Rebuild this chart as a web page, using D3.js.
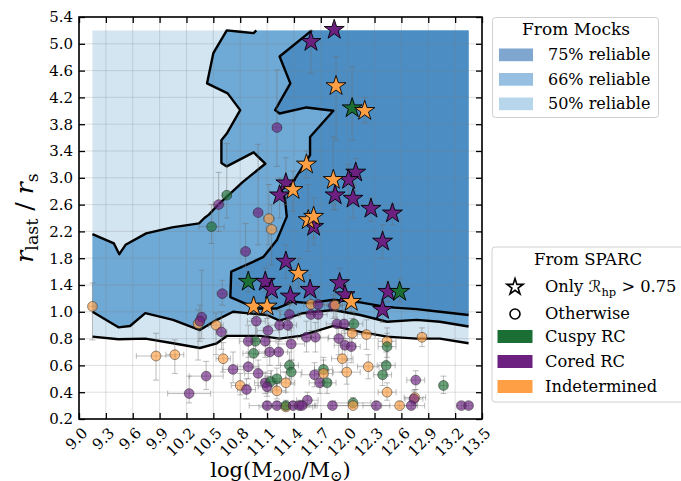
<!DOCTYPE html>
<html>
<head>
<meta charset="utf-8">
<script src="https://cdn.jsdelivr.net/npm/d3@7"></script>
<style>
  body { margin: 0; background: #fff; }
  svg { display: block; font-family: "DejaVu Serif", serif; }
</style>
</head>
<body>
<svg id="chart" width="681" height="481"></svg>
<script>
// ---- axis ticks ----
const xTicks = [9.0, 9.3, 9.6, 9.9, 10.2, 10.5, 10.8, 11.1, 11.4, 11.7, 12.0, 12.3, 12.6, 12.9, 13.2, 13.5];
const yTicks = [0.2, 0.4, 0.6, 0.8, 1.0, 1.4, 1.8, 2.2, 2.6, 3.0, 3.4, 3.8, 4.2, 4.6, 5.0, 5.4];

// ---- mock reliability map: extent of the mass grid and ratio ceiling ----
const gridMass = [9.15, 13.35];
const gridTop = 5.2;

// lower edge of the 50% reliable region  [log M200, r_last/r_s]
const edge50 = [[9.15,0.815],[9.44,0.795],[9.74,0.80],[10.05,0.765],[10.35,0.73],[10.54,0.765],[10.65,0.82],
  [10.87,0.82],[11.02,0.82],[11.24,0.80],[11.47,0.82],[11.84,0.895],[12.14,0.85],[12.44,0.815],[12.77,0.80],
  [13.03,0.80],[13.35,0.765]];

// lower edge of the 66% reliable region
const edge66Low = [[9.15,1.0],[9.44,0.884],[9.57,0.894],[9.74,0.99],[10.05,0.94],[10.35,0.864],[10.54,0.94],
  [10.72,1.0],[10.87,0.99],[11.1,0.976],[11.24,0.934],[11.5,0.99],[11.84,1.027],[12.14,0.976],[12.44,0.926],
  [12.77,0.94],[13.03,0.926],[13.35,0.89]];

// upper-left edge of the 66% reliable region (left side to the top)
const edge66High = [[9.15,2.16],[9.39,2.02],[9.45,1.86],[9.52,2.0],[9.75,2.17],[10.04,2.26],[10.34,2.32],
  [10.40,2.40],[10.45,2.45],[10.57,2.62],[10.83,2.94],[11.08,3.21],[10.95,3.38],[10.65,3.17],[10.59,3.22],
  [10.59,3.56],[10.65,3.66],[10.80,4.01],[10.66,4.26],[10.43,4.41],[10.50,4.86],[10.65,5.2],[10.80,5.18],
  [10.95,5.16],[10.98,5.2]];

// edge of the 75% reliable region (top down to the right side)
const edge75 = [[11.60,5.2],[11.24,4.81],[11.36,4.41],[11.19,4.01],[11.24,3.96],[11.54,4.05],[11.84,4.0],
  [11.58,3.61],[11.58,3.34],[11.39,2.94],[11.26,2.82],[11.30,2.69],[11.32,2.42],[11.21,2.07],[11.06,1.82],
  [10.95,1.75],[10.70,1.60],[10.69,1.22],[10.98,1.05],[11.21,1.05],[11.39,1.15],[11.58,1.13],[11.84,1.18],
  [12.14,1.14],[12.44,1.07],[12.77,1.04],[13.03,1.0],[13.35,0.976]];

// ---- SPARC galaxies with R_hp > 0.75: [class, log M200, r, r low, r high, mass err] ----
const sparcStars = [
  ["cored",11.85,5.21,5.21,5.21,0],["cored",11.59,5.03,4.56,5.2,0],["indet",11.87,4.37,3.56,4.81,0],
  ["cuspy",12.05,4.04,3.56,4.66,0],["indet",12.19,4.00,3.82,4.2,0],["indet",11.54,3.20,3.0,3.4,0],
  ["cored",12.09,3.08,2.8,3.29,0],["cored",12.01,2.97,2.7,3.2,0],["indet",11.84,2.97,2.52,3.61,0],
  ["cored",11.86,2.74,2.52,3.0,0],["cored",12.06,2.69,2.4,2.9,0],["cored",12.26,2.54,2.35,2.7,0],
  ["cored",12.50,2.47,2.3,2.6,0],["cored",11.31,2.92,2.6,3.3,0],["cored",11.24,2.74,2.4,3.0,0],
  ["indet",11.39,2.82,2.5,3.1,0],["cored",11.62,2.27,2.0,2.5,0],["indet",11.56,2.37,1.9,2.9,0],
  ["indet",11.62,2.42,2.1,2.7,0],["cored",12.39,2.05,1.8,2.3,0],["cored",11.31,1.75,1.5,2.0,0],
  ["indet",11.45,1.57,1.35,1.8,0],["cuspy",10.89,1.45,1.3,1.6,0],["cored",11.08,1.45,1.3,1.65,0],
  ["cored",11.15,1.33,1.2,1.5,0],["cored",11.36,1.23,1.1,1.4,0],["cored",11.58,1.33,1.15,1.55,0],
  ["indet",10.95,1.08,0.95,1.2,0],["indet",11.10,1.08,0.95,1.2,0],["cored",11.91,1.43,1.25,1.65,0],
  ["cored",11.97,1.25,1.1,1.4,0],["indet",12.04,1.15,1.0,1.3,0],["cored",12.45,1.30,1.15,1.45,0],
  ["cuspy",12.58,1.30,1.15,1.5,0],["cored",12.39,1.03,0.92,1.15,0]
];

// ---- remaining SPARC galaxies: [class, log M200, r, r low, r high, mass err] ----
const sparcCircles = [
  ["indet",9.15,1.08,0.79,1.43,0.04],["indet",9.86,0.67,0.49,0.84,0.22],["indet",10.07,0.68,0.54,0.79,0.10],
  ["cored",10.23,0.39,0.32,0.52,0.24],["cored",10.42,0.52,0.42,0.63,0.19],["indet",10.33,0.91,0.64,1.03,0.05],
  ["cored",10.37,0.96,0.80,1.62,0.05],["cored",10.35,0.93,0.78,1.1,0.05],["indet",10.53,0.90,0.68,0.99,0.08],
  ["cored",10.59,0.85,0.72,1.0,0.06],["cored",10.60,1.27,1.10,1.47,0.06],["indet",10.61,0.65,0.55,0.77,0.08],
  ["cored",10.72,0.57,0.47,0.70,0.12],["cored",10.86,1.90,1.67,2.32,0.05],["cuspy",10.48,2.27,2.02,2.6,0.14],
  ["cored",10.56,2.60,2.2,3.08,0.06],["cuspy",10.65,2.74,2.4,3.51,0.05],["cored",11.00,2.48,2.0,3.5,0.05],
  ["indet",11.12,2.39,2.0,2.9,0.06],["indet",11.15,2.23,1.7,2.6,0.06],["cored",11.21,3.75,3.17,4.61,0.05],
  ["indet",11.59,1.11,0.98,1.3,0.08],["cored",11.67,1.11,0.95,1.3,0.1],["cored",11.84,1.09,0.95,1.25,0.1],
  ["indet",11.86,1.10,0.96,1.3,0.08],["cored",11.35,0.98,0.86,1.12,0.1],["cored",11.59,0.98,0.86,1.12,0.12],
  ["cored",11.67,0.98,0.85,1.1,0.1],["cored",10.98,0.93,0.8,1.05,0.1],["cored",11.24,0.90,0.78,1.02,0.12],
  ["cored",11.33,0.90,0.78,1.03,0.1],["cored",11.88,0.91,0.8,1.02,0.12],["cored",11.96,0.91,0.8,1.03,0.1],
  ["cuspy",12.07,0.91,0.8,1.0,0.1],["cored",11.11,0.86,0.75,0.98,0.12],["indet",12.05,0.84,0.72,0.95,0.12],
  ["indet",12.21,0.83,0.72,0.94,0.1],["cored",11.64,0.81,0.7,0.92,0.15],["cored",11.54,0.81,0.7,0.93,0.1],
  ["cored",11.90,0.80,0.68,0.9,0.12],["cuspy",10.97,0.78,0.68,0.9,0.1],["cored",10.89,0.78,0.66,0.9,0.1],
  ["cored",11.08,0.78,0.66,0.88,0.12],["cored",11.37,0.76,0.64,0.88,0.15],["cored",11.97,0.75,0.64,0.86,0.12],
  ["cored",12.04,0.74,0.62,0.86,0.1],["indet",12.44,0.78,0.66,0.88,0.1],["cuspy",12.44,0.74,0.62,0.84,0.1],
  ["indet",12.83,0.81,0.74,0.88,0.05],["cored",11.13,0.70,0.6,0.8,0.12],["cored",11.23,0.70,0.6,0.8,0.1],
  ["cuspy",10.95,0.69,0.58,0.8,0.12],["indet",11.94,0.65,0.55,0.76,0.12],["cored",10.89,0.59,0.5,0.7,0.12],
  ["cored",11.00,0.54,0.45,0.64,0.15],["cuspy",11.35,0.60,0.5,0.7,0.1],["cuspy",11.37,0.55,0.46,0.64,0.12],
  ["cuspy",11.73,0.57,0.48,0.66,0.1],["indet",11.73,0.54,0.45,0.64,0.1],["cored",11.63,0.53,0.44,0.62,0.15],
  ["cored",11.69,0.47,0.39,0.56,0.12],["cuspy",11.77,0.47,0.39,0.56,0.1],["indet",10.80,0.45,0.38,0.54,0.1],
  ["cored",10.87,0.42,0.35,0.5,0.1],["cored",11.08,0.47,0.39,0.55,0.12],["cuspy",11.14,0.48,0.4,0.56,0.1],
  ["cuspy",11.21,0.50,0.42,0.58,0.1],["indet",11.31,0.47,0.4,0.55,0.1],["cored",11.10,0.44,0.37,0.52,0.1],
  ["indet",11.21,0.41,0.35,0.48,0.1],["cored",11.55,0.34,0.29,0.4,0.12],["indet",12.23,0.59,0.5,0.68,0.12],
  ["cuspy",12.43,0.60,0.52,0.7,0.1],["indet",11.99,0.55,0.46,0.64,0.15],["cuspy",12.39,0.53,0.45,0.62,0.1],
  ["cored",12.76,0.49,0.42,0.56,0.1],["cuspy",13.07,0.45,0.39,0.52,0.04],["indet",12.44,0.40,0.34,0.47,0.1],
  ["indet",12.75,0.36,0.31,0.42,0.12],["cored",12.74,0.35,0.3,0.41,0.1],
  ["cored",11.10,0.30,0.28,0.33,0.2],["cored",11.21,0.30,0.28,0.33,0.15],["indet",11.31,0.29,0.27,0.32,0.3],
  ["cuspy",11.31,0.30,0.28,0.34,0.2],["cored",11.39,0.30,0.28,0.33,0.15],["cored",11.46,0.30,0.28,0.33,0.2],
  ["cored",11.49,0.30,0.28,0.33,0.15],["cored",11.83,0.30,0.28,0.33,0.2],["cuspy",12.06,0.32,0.29,0.36,0.2],
  ["indet",12.06,0.30,0.28,0.33,0.25],["cored",12.32,0.30,0.28,0.33,0.15],["indet",12.58,0.30,0.28,0.33,0.2],
  ["cored",12.71,0.30,0.28,0.33,0.15],["cored",13.27,0.30,0.28,0.32,0.05],["cored",13.35,0.30,0.28,0.32,0.04]
];

const classColor = { cuspy: "#1b6e34", cored: "#6c2180", indet: "#ff9f45" };
const mockFill = { r50: "#d3e5f1", r66: "#6fa9d5", r75: "#4c8dc3" };
const mockLegend = [["75% reliable", "#7fa6cf"], ["66% reliable", "#96bfe1"], ["50% reliable", "#b8d6eb"]];
const classLegend = [["Cuspy RC", classColor.cuspy], ["Cored RC", classColor.cored], ["Indetermined", classColor.indet]];

// ---- layout ----
const pL = 79, pR = 482, pT = 17, pB = 419;
const svg = d3.select("#chart");
const x = d3.scaleLinear().domain([9.0, 13.5]).range([pL, pR]);
// equal spacing between tick labels: finer steps below 1.0
const yBreak = pB - (pB - pT) * 4 / 15;
const y = d3.scaleLinear().domain([0.2, 1.0, 5.4]).range([pB, yBreak, pT]);

const line = d3.line().x(d => x(d[0])).y(d => y(d[1]));
const plot = svg.append("g");

// reliability regions
const region50 = edge50.concat([[gridMass[1], gridTop], [gridMass[0], gridTop]]);
const region66 = edge66Low.concat([[gridMass[1], gridTop]], edge66High.slice().reverse());
const region75 = edge75.concat([[gridMass[1], gridTop]]);
plot.append("path").attr("d", line(region50) + "Z").attr("fill", mockFill.r50);
plot.append("path").attr("d", line(region66) + "Z").attr("fill", mockFill.r66);
plot.append("path").attr("d", line(region75) + "Z").attr("fill", mockFill.r75);

// grid
const grid = plot.append("g").attr("stroke", "#7f7f7f").attr("stroke-opacity", 0.25).attr("stroke-width", 1);
xTicks.forEach(t => grid.append("line").attr("x1", x(t)).attr("x2", x(t)).attr("y1", pT).attr("y2", pB));
yTicks.forEach(t => grid.append("line").attr("x1", pL).attr("x2", pR).attr("y1", y(t)).attr("y2", y(t)));

// contour edges
[edge50, edge66Low, edge66High, edge75].forEach(e =>
  plot.append("path").attr("d", line(e)).attr("fill", "none").attr("stroke", "#000")
    .attr("stroke-width", 2.4).attr("stroke-linejoin", "round"));

// error bars
const errs = plot.append("g").attr("stroke", "#6f6f6f").attr("stroke-opacity", 0.45).attr("stroke-width", 1);
const cap = 3;
sparcCircles.concat(sparcStars).forEach(([c, m, r, lo, hi, dm]) => {
  if (hi > lo) {
    errs.append("line").attr("x1", x(m)).attr("x2", x(m)).attr("y1", y(lo)).attr("y2", y(hi));
    [lo, hi].forEach(v => errs.append("line").attr("x1", x(m) - cap).attr("x2", x(m) + cap).attr("y1", y(v)).attr("y2", y(v)));
  }
  if (dm > 0) {
    errs.append("line").attr("x1", x(m - dm)).attr("x2", x(m + dm)).attr("y1", y(r)).attr("y2", y(r));
    [m - dm, m + dm].forEach(v => errs.append("line").attr("x1", x(v)).attr("x2", x(v)).attr("y1", y(r) - cap).attr("y2", y(r) + cap));
  }
});

// circles
plot.append("g").selectAll("circle").data(sparcCircles).join("circle")
  .attr("cx", d => x(d[1])).attr("cy", d => y(d[2])).attr("r", 4.9)
  .attr("fill", d => classColor[d[0]]).attr("fill-opacity", 0.65)
  .attr("stroke", "#222").attr("stroke-opacity", 0.6).attr("stroke-width", 0.8);

// stars
const starR = 10.5;
const star = d3.symbol().type(d3.symbolStar).size(starR * starR / 0.8908130915292852);
plot.append("g").selectAll("path").data(sparcStars).join("path")
  .attr("transform", d => `translate(${x(d[1])},${y(d[2])})`).attr("d", star())
  .attr("fill", d => classColor[d[0]]).attr("stroke", "#000").attr("stroke-width", 0.9);

// axes (inward ticks on all four sides)
const fmt = d3.format(".1f");
const ax = svg.append("g");
const gb = ax.append("g").attr("transform", `translate(0,${pB})`)
  .call(d3.axisBottom(x).tickValues(xTicks).tickSize(-6).tickPadding(0).tickFormat(fmt));
gb.selectAll("text").attr("x", 0).attr("y", 0).attr("dy", 0).attr("text-anchor", "end")
  .attr("transform", "translate(9,15) rotate(-45)");
ax.append("g").attr("transform", `translate(${pL},0)`)
  .call(d3.axisLeft(y).tickValues(yTicks).tickSize(-6).tickPadding(6).tickFormat(fmt));
ax.append("g").attr("transform", `translate(0,${pT})`)
  .call(d3.axisTop(x).tickValues(xTicks).tickSize(-6).tickFormat(""));
ax.append("g").attr("transform", `translate(${pR},0)`)
  .call(d3.axisRight(y).tickValues(yTicks).tickSize(-6).tickFormat(""));
ax.selectAll(".domain").remove();
ax.selectAll(".tick line").attr("stroke", "#000").attr("stroke-width", 1.3);
ax.selectAll(".tick text").attr("fill", "#000").attr("font-size", 15).attr("font-family", "DejaVu Serif");
svg.append("rect").attr("x", pL).attr("y", pT).attr("width", pR - pL).attr("height", pB - pT)
  .attr("fill", "none").attr("stroke", "#000").attr("stroke-width", 1.6);

// axis titles
const xt = svg.append("text").attr("x", (pL + pR) / 2).attr("y", 477).attr("text-anchor", "middle")
  .attr("font-size", 21);
xt.append("tspan").text("log(M");
xt.append("tspan").attr("font-size", 15).attr("dy", 4).text("200");
xt.append("tspan").attr("dy", -4).text("/M");
xt.append("tspan").attr("font-size", 15).attr("dy", 4).text("⊙");
xt.append("tspan").attr("dy", -4).text(")");

const yt = svg.append("text").attr("transform", `translate(33,${(pT + pB) / 2}) rotate(-90)`)
  .attr("text-anchor", "middle").attr("font-size", 25);
yt.append("tspan").attr("font-style", "italic").text("r");
yt.append("tspan").attr("font-size", 17.5).attr("dy", 5).text("last");
yt.append("tspan").attr("dy", -5).text(" / ");
yt.append("tspan").attr("font-style", "italic").text("r");
yt.append("tspan").attr("font-size", 17.5).attr("dy", 5).text("s");

// legend: mocks
const lg1 = svg.append("g").attr("font-size", 16);
lg1.append("rect").attr("x", 492.5).attr("y", 17.5).attr("width", 166).attr("height", 100).attr("rx", 3)
  .attr("fill", "#fff").attr("stroke", "#d0d0d0");
lg1.append("text").attr("x", 576).attr("y", 35).attr("text-anchor", "middle").attr("font-size", 17).text("From Mocks");
mockLegend.forEach(([label, col], i) => {
  const yy = 48.5 + i * 24.5;
  lg1.append("rect").attr("x", 499).attr("y", yy).attr("width", 34).attr("height", 12.7).attr("fill", col);
  lg1.append("text").attr("x", 548).attr("y", yy + 11.5).text(label);
});

// legend: SPARC
const lg2 = svg.append("g").attr("font-size", 16.3);
lg2.append("rect").attr("x", 492).attr("y", 247).attr("width", 200).attr("height", 155).attr("rx", 3)
  .attr("fill", "#fff").attr("stroke", "#d0d0d0");
lg2.append("text").attr("x", 588).attr("y", 265).attr("text-anchor", "middle").attr("font-size", 16.5).text("From SPARC");
lg2.append("path").attr("transform", "translate(515,287)")
  .attr("d", d3.symbol().type(d3.symbolStar).size(8.5 * 8.5 / 0.8908130915292852)())
  .attr("fill", "#fff").attr("stroke", "#000").attr("stroke-width", 1.6);
const t1 = lg2.append("text").attr("x", 545).attr("y", 292);
t1.append("tspan").text("Only ");
t1.append("tspan").attr("font-family", "DejaVu Sans").attr("font-style", "italic").text("ℛ");
t1.append("tspan").attr("font-size", 11.5).attr("dy", 4).text("hp");
t1.append("tspan").attr("dy", -4).text(" > 0.75");
lg2.append("circle").attr("cx", 515).attr("cy", 314).attr("r", 5).attr("fill", "#fff")
  .attr("stroke", "#000").attr("stroke-width", 1.6);
lg2.append("text").attr("x", 545).attr("y", 318.5).text("Otherwise");
classLegend.forEach(([label, col], i) => {
  const yy = 330 + i * 25;
  lg2.append("rect").attr("x", 497.5).attr("y", yy).attr("width", 35).attr("height", 13).attr("fill", col);
  lg2.append("text").attr("x", 545).attr("y", yy + 12).text(label);
});
</script>
</body>
</html>
